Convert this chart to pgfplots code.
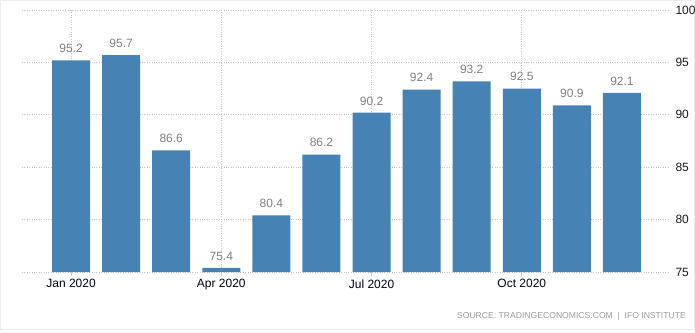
\documentclass[border=0pt]{standalone}
\usepackage{pgfplots}
\pgfplotsset{compat=1.18}
\usepackage{fontspec}
\setmainfont{Liberation Sans}
\definecolor{barblue}{HTML}{4682B4}
\definecolor{gridgray}{HTML}{C8C8C8}
\definecolor{valgray}{HTML}{7F7F7F}
\definecolor{srcgray}{HTML}{9A9A9A}
\begin{document}
\begin{tikzpicture}[x=1pt,y=1pt]
\useasboundingbox (0,0) rectangle (695,332);
\draw[color=black!7, line width=1pt] (0.5,2.5) rectangle (694.5,331.5);
\begin{axis}[
  at={(22pt,60pt)}, anchor=south west,
  scale only axis, width=646pt, height=262pt,
  xmin=-0.98, xmax=11.92, ymin=75, ymax=100,
  ybar, bar width=38pt,
  axis line style={draw=none},
  xtick={0,3,6,9},
  xticklabels={Jan 2020, Apr 2020, Jul 2020, Oct 2020},
  ytick={75,80,...,100},
  yticklabel pos=right,
  xtick pos=bottom,
  tick align=outside,
  major tick length=4pt,
  xtick style={gridgray, line width=0.8pt},
  ytick style={draw=none},
  xmajorgrids, ymajorgrids,
  grid style={gridgray, dotted, line width=0.8pt},
  /pgf/number format/assume math mode=true,
  ticklabel style={font=\fontsize{12}{14}\selectfont, color=black!90},
  yticklabel style={anchor=west},
  xticklabel style={color=black!90!blue},
  nodes near coords,
  every node near coord/.append style={font=\fontsize{12}{14}\selectfont, color=valgray, yshift=4pt},
  point meta=explicit symbolic,
  clip=false,
]
\addplot[fill=barblue, draw=none] coordinates {
  (0,95.2) [95.2]
  (1,95.7) [95.7]
  (2,86.6) [86.6]
  (3,75.4) [75.4]
  (4,80.4) [80.4]
  (5,86.2) [86.2]
  (6,90.2) [90.2]
  (7,92.4) [92.4]
  (8,93.2) [93.2]
  (9,92.5) [92.5]
  (10,90.9) [90.9]
  (11,92.1) [92.1]
};
\end{axis}
\node[anchor=base east, font=\fontsize{8.6}{10}\selectfont, color=srcgray, inner sep=0pt] at (686,14) {SOURCE: TRADINGECONOMICS.COM \ \textbar\ \ IFO INSTITUTE};
\end{tikzpicture}
\end{document}
